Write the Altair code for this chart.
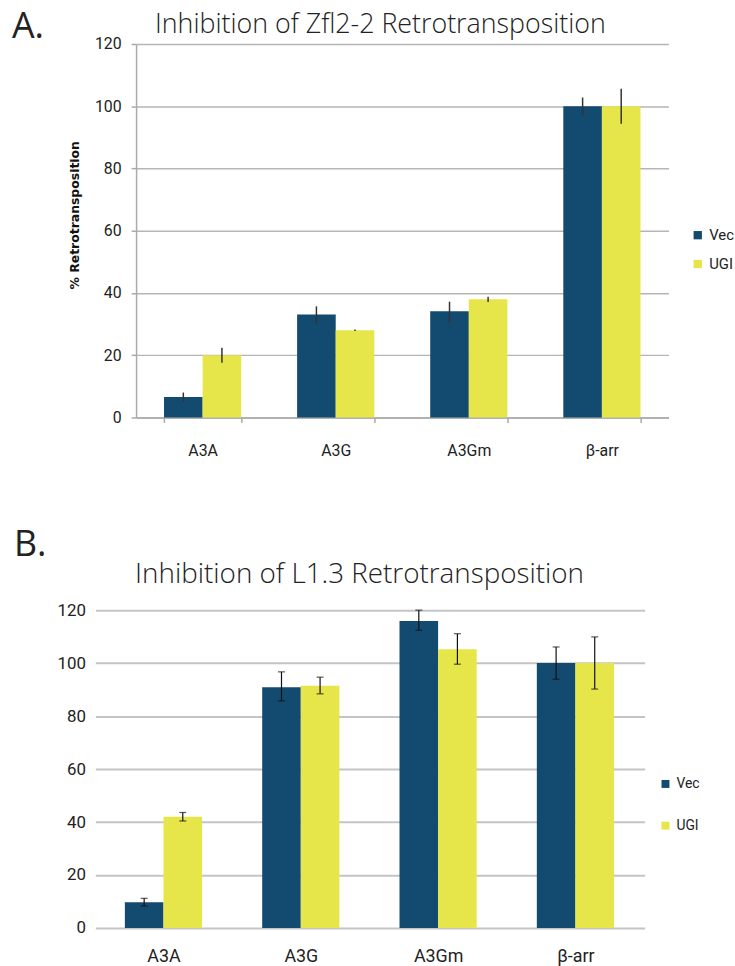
import altair as alt
import pandas as pd

categories = ["A3A", "A3G", "A3Gm", "β-arr"]
groups = ["Vec", "UGI"]
colors = ["#134A70", "#E6E64A"]

titles = ["Inhibition of Zfl2-2 Retrotransposition", "Inhibition of L1.3 Retrotransposition"]
panel_letters = ["A.", "B."]
y_title_a = "% Retrotransposition"
y_ticks = [0, 20, 40, 60, 80, 100, 120]

# Panel A (Zfl2-2)
a_vec = [6.6, 33.1, 34.1, 100]
a_vec_lo = [5.0, 30.2, 30.6, 97.1]
a_vec_hi = [8.0, 35.7, 37.2, 102.8]
a_ugi = [20.0, 28.0, 38.0, 100]
a_ugi_lo = [17.6, 27.8, 37.1, 94.4]
a_ugi_hi = [22.4, 28.3, 38.8, 105.6]

# Panel B (L1.3)
b_vec = [9.7, 90.9, 115.9, 100]
b_vec_lo = [8.3, 85.7, 112.4, 93.9]
b_vec_hi = [11.2, 96.7, 120.0, 106.1]
b_ugi = [42.0, 91.5, 105.2, 100]
b_ugi_lo = [40.4, 88.4, 99.6, 90.2]
b_ugi_hi = [43.6, 94.7, 111.1, 109.9]

LABF = "Roboto"
TITLEF = "Open Sans"
SHIFT = 41  # panel A plot starts this far right of panel B


def frame(vec, vlo, vhi, ugi, ulo, uhi):
    rows = []
    for i, c in enumerate(categories):
        rows.append({"cat": c, "grp": "Vec", "val": vec[i], "lo": vlo[i], "hi": vhi[i]})
        rows.append({"cat": c, "grp": "UGI", "val": ugi[i], "lo": ulo[i], "hi": uhi[i]})
    return pd.DataFrame(rows)


df_a = frame(a_vec, a_vec_lo, a_vec_hi, a_ugi, a_ugi_lo, a_ugi_hi)
df_b = frame(b_vec, b_vec_lo, b_vec_hi, b_ugi, b_ugi_lo, b_ugi_hi)

# ---------- Panel A ----------
WA = 536
xa = alt.X("cat:N", sort=categories,
           scale=alt.Scale(paddingInner=0.42, paddingOuter=0.21, range=[SHIFT, SHIFT + WA]),
           axis=alt.Axis(title=None, labelAngle=0, labelFont=LABF, labelFontSize=16,
                         labelColor="#222", labelPadding=20, tickBand="extent",
                         domainColor="#aaaaaa", tickColor="#aaaaaa", tickSize=5,
                         domainWidth=1.5, tickWidth=1.5))
xo = alt.XOffset("grp:N", sort=groups, scale=alt.Scale(paddingInner=0, paddingOuter=0))
ya = alt.Y("val:Q", scale=alt.Scale(domain=[0, 120], nice=False),
           axis=alt.Axis(values=y_ticks, offset=-SHIFT, title=y_title_a,
                         titleFont="DejaVu Sans", titleFontWeight="bold", titleFontSize=12.5,
                         titleColor="#111", titleX=-62, titleY=172, titleAlign="center",
                         titleBaseline="middle", titleAngle=270,
                         labelFont=LABF, labelFontSize=16,
                         labelColor="#222", labelPadding=10, gridColor="#b5b5b5",
                         gridWidth=1.5, domainColor="#aaaaaa", tickColor="#aaaaaa",
                         tickSize=5, domainWidth=1.5, tickWidth=1.5))
col_a = alt.Color("grp:N", sort=groups, scale=alt.Scale(domain=groups, range=colors),
                  legend=alt.Legend(title=None, orient="none", legendX=558 + SHIFT, legendY=185,
                                    symbolType="square", symbolSize=70, symbolStrokeWidth=0,
                                    labelFont=LABF, labelFontSize=15, labelColor="#222",
                                    rowPadding=13, padding=0, labelOffset=4))

bars_a = alt.Chart(df_a).mark_bar().encode(x=xa, xOffset=xo, y=ya, color=col_a)
err_a = alt.Chart(df_a).mark_rule(color="#333333", strokeWidth=1.5).encode(
    x=alt.X("cat:N", sort=categories), xOffset=alt.XOffset("grp:N", sort=groups),
    y="lo:Q", y2="hi:Q")
letter_a = alt.Chart(pd.DataFrame({"t": [panel_letters[0]]})).mark_text(
    font=TITLEF, fontSize=36, align="left", baseline="alphabetic", color="#222").encode(
    text="t:N", x=alt.value(-84), y=alt.value(-6))
title_a = alt.Chart(pd.DataFrame({"t": [titles[0]]})).mark_text(
    font=TITLEF, fontSize=27, fontWeight=300, align="center", baseline="alphabetic",
    color="#222").encode(text="t:N", x=alt.value(246 + SHIFT), y=alt.value(-11))

panel_a = alt.layer(bars_a, err_a, letter_a, title_a).properties(width=WA + SHIFT, height=376)

# ---------- Panel B ----------
xb = alt.X("cat:N", sort=categories,
           scale=alt.Scale(paddingInner=0.43, paddingOuter=0.215),
           axis=alt.Axis(title=None, labelAngle=0, labelFont=LABF, labelFontSize=18,
                         labelColor="#222", labelPadding=20, domain=False, ticks=False))
yb = alt.Y("val:Q", scale=alt.Scale(domain=[0, 120], nice=False),
           axis=alt.Axis(values=y_ticks, title=None, labelFont=LABF, labelFontSize=17,
                         labelColor="#222", labelPadding=10, gridColor="#c4c4c4",
                         gridWidth=2, domain=False, ticks=False))
col_b = alt.Color("grp:N", sort=groups, scale=alt.Scale(domain=groups, range=colors),
                  legend=alt.Legend(title=None, orient="none", legendX=567, legendY=168,
                                    symbolType="square", symbolSize=64, symbolStrokeWidth=0,
                                    labelFont=LABF, labelFontSize=14, labelColor="#222",
                                    rowPadding=28, padding=0, labelOffset=4))

bars_b = alt.Chart(df_b).mark_bar().encode(x=xb, xOffset=xo, y=yb, color=col_b)
err_b = alt.Chart(df_b).mark_rule(color="#111111", strokeWidth=1.2).encode(
    x=alt.X("cat:N", sort=categories), xOffset=alt.XOffset("grp:N", sort=groups),
    y="lo:Q", y2="hi:Q")
cap_lo = alt.Chart(df_b).mark_tick(color="#111111", thickness=1.2, size=7).encode(
    x=alt.X("cat:N", sort=categories), xOffset=alt.XOffset("grp:N", sort=groups),
    y="lo:Q")
cap_hi = alt.Chart(df_b).mark_tick(color="#111111", thickness=1.2, size=7).encode(
    x=alt.X("cat:N", sort=categories), xOffset=alt.XOffset("grp:N", sort=groups),
    y="hi:Q")
letter_b = alt.Chart(pd.DataFrame({"t": [panel_letters[1]]})).mark_text(
    font=TITLEF, fontSize=36, align="left", baseline="alphabetic", color="#222").encode(
    text="t:N", x=alt.value(-82), y=alt.value(-55))
title_b = alt.Chart(pd.DataFrame({"t": [titles[1]]})).mark_text(
    font=TITLEF, fontSize=28, fontWeight=300, align="center", baseline="alphabetic",
    color="#222").encode(text="t:N", x=alt.value(266), y=alt.value(-27))

panel_b = alt.layer(bars_b, err_b, cap_lo, cap_hi, letter_b, title_b).properties(
    width=553, height=320)

chart = alt.vconcat(panel_a, panel_b, spacing=69).resolve_scale(
    color="independent", x="independent", y="independent"
).properties(
    padding={"left": 12, "top": 6, "right": 0, "bottom": 0},
    background="white",
).configure_view(stroke=None)

chart.save("out.html", embed_options={"renderer": "svg", "actions": False})
